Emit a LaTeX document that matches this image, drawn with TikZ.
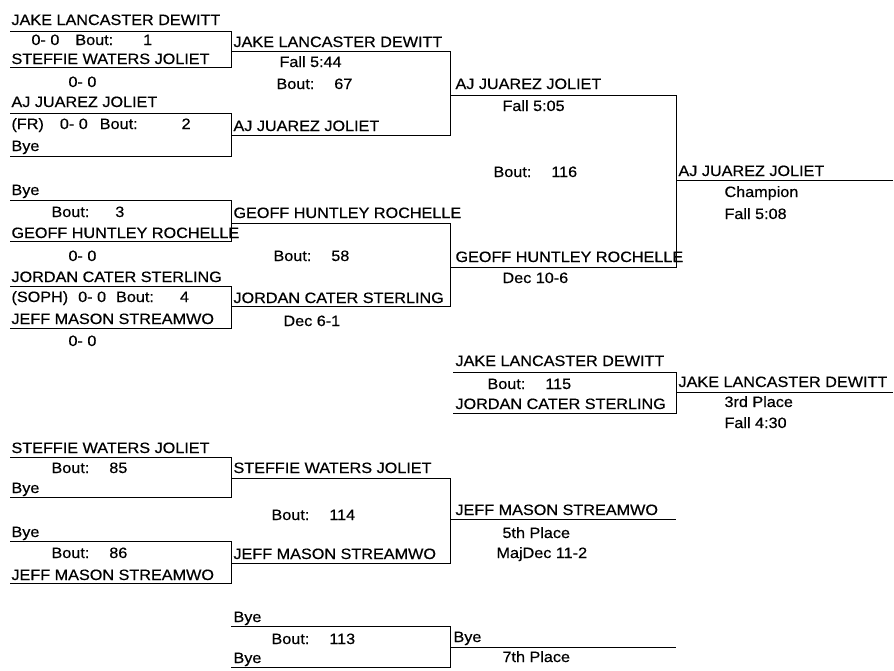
\documentclass[tikz,border=0pt]{standalone}
\usepackage{fontspec}
\setmainfont{Liberation Sans}[FakeStretch=1.08,FakeBold=0.5]
\usetikzlibrary{calc}

\begin{document}
\begin{tikzpicture}[x=1pt, y=-1pt, line width=1pt,
    wr/.style={anchor=base west, inner sep=0pt, font=\fontsize{15}{18}\selectfont}]
    \useasboundingbox (0,0) rectangle (894,670);
    % column edges
    \coordinate (x1) at (231,0);
    \coordinate (x2) at (450,0);
    \coordinate (x3) at (676,0);
    \coordinate (x4) at (893,0);
    % championship, first round
    \node[wr] (p1) at (11,25) {JAKE LANCASTER DEWITT};
    \node[wr] (r1) at (31,45) {0- 0\hspace{16pt}Bout:\hspace{30pt}1};
    \node[wr] (p2) at (11,64) {STEFFIE WATERS JOLIET};
    \node[wr] (r2) at (68,87) {0- 0};
    \node[wr] (p3) at (11,107) {AJ JUAREZ JOLIET};
    \node[wr] (r3) at (11,129) {(FR)\hspace{16pt}0- 0\hspace{12pt}Bout:\hspace{44pt}2};
    \node[wr] (p4) at (11,151) {Bye};
    \node[wr] (p5) at (11,195) {Bye};
    \node[wr] (r5) at (51,217) {Bout:\hspace{26pt}3};
    \node[wr] (p6) at (11,238) {GEOFF HUNTLEY ROCHELLE};
    \node[wr] (r6) at (68,261) {0- 0};
    \node[wr] (p7) at (11,282) {JORDAN CATER STERLING};
    \node[wr] (r7) at (11,302) {(SOPH)\hspace{10pt}0- 0\hspace{10pt}Bout:\hspace{26pt}4};
    \node[wr] (p8) at (11,324) {JEFF MASON STREAMWO};
    \node[wr] (r8) at (68,346) {0- 0};
    \coordinate (a1) at (10,31);  \coordinate (a2) at (10,67);
    \coordinate (a3) at (10,113); \coordinate (a4) at (10,156);
    \coordinate (a5) at (10,200); \coordinate (a6) at (10,241);
    \coordinate (a7) at (10,286); \coordinate (a8) at (10,328);
    \draw (a1) -- (a1 -| x1) |- (a2);
    \draw (a3) -- (a3 -| x1) |- (a4);
    \draw (a5) -- (a5 -| x1) |- (a6);
    \draw (a7) -- (a7 -| x1) |- (a8);
    % quarter finals
    \node[wr] (q1) at (233,47) {JAKE LANCASTER DEWITT};
    \node[wr] (t1) at (279,67) {Fall 5:44};
    \node[wr] (t2) at (276,89) {Bout:\hspace{20pt}67};
    \node[wr] (q2) at (233,131) {AJ JUAREZ JOLIET};
    \node[wr] (q3) at (233,218) {GEOFF HUNTLEY ROCHELLE};
    \node[wr] (t3) at (273,261) {Bout:\hspace{20pt}58};
    \node[wr] (q4) at (233,303) {JORDAN CATER STERLING};
    \node[wr] (t4) at (283,326) {Dec 6-1};
    \coordinate (b1) at (231,51);  \coordinate (b2) at (231,135);
    \coordinate (b3) at (231,223); \coordinate (b4) at (231,306);
    \draw (b1) -- (b1 -| x2) |- (b2);
    \draw (b3) -- (b3 -| x2) |- (b4);
    % final
    \node[wr] (f1) at (455,89) {AJ JUAREZ JOLIET};
    \node[wr] (u1) at (502,111) {Fall 5:05};
    \node[wr] (u2) at (493,177) {Bout:\hspace{20pt}116};
    \node[wr] (f2) at (455,262) {GEOFF HUNTLEY ROCHELLE};
    \node[wr] (u3) at (502,283) {Dec 10-6};
    \coordinate (c1) at (450,95); \coordinate (c2) at (450,267);
    \draw (c1) -- (c1 -| x3) |- (c2);
    \node[wr] (champ) at (678,176) {AJ JUAREZ JOLIET};
    \node[wr] (v1) at (724,197) {Champion};
    \node[wr] (v2) at (724,219) {Fall 5:08};
    \coordinate (d1) at (676,180);
    \draw (d1) -- (d1 -| x4);
    % 3rd place
    \node[wr] (g1) at (455,366) {JAKE LANCASTER DEWITT};
    \node[wr] (w1) at (487,389) {Bout:\hspace{20pt}115};
    \node[wr] (g2) at (455,409) {JORDAN CATER STERLING};
    \coordinate (e1) at (453,372); \coordinate (e2) at (453,413);
    \draw (e1) -- (e1 -| x3) |- (e2);
    \node[wr] (third) at (678,387) {JAKE LANCASTER DEWITT};
    \node[wr] (w2) at (724,407) {3rd Place};
    \node[wr] (w3) at (724,428) {Fall 4:30};
    \coordinate (e3) at (676,392);
    \draw (e3) -- (e3 -| x4);
    % 5th place
    \node[wr] (h1) at (11,453) {STEFFIE WATERS JOLIET};
    \node[wr] (y1) at (51,473) {Bout:\hspace{20pt}85};
    \node[wr] (h2) at (11,493) {Bye};
    \node[wr] (h3) at (11,537) {Bye};
    \node[wr] (y2) at (51,558) {Bout:\hspace{20pt}86};
    \node[wr] (h4) at (11,580) {JEFF MASON STREAMWO};
    \coordinate (g1l) at (10,457); \coordinate (g2l) at (10,497);
    \coordinate (g3l) at (10,541); \coordinate (g4l) at (10,583);
    \draw (g1l) -- (g1l -| x1) |- (g2l);
    \draw (g3l) -- (g3l -| x1) |- (g4l);
    \node[wr] (k1) at (233,473) {STEFFIE WATERS JOLIET};
    \node[wr] (y3) at (271,520) {Bout:\hspace{20pt}114};
    \node[wr] (k2) at (233,559) {JEFF MASON STREAMWO};
    \coordinate (h1l) at (231,478); \coordinate (h2l) at (231,563);
    \draw (h1l) -- (h1l -| x2) |- (h2l);
    \node[wr] (fifth) at (455,515) {JEFF MASON STREAMWO};
    \node[wr] (y4) at (502,538) {5th Place};
    \node[wr] (y5) at (496,558) {MajDec 11-2};
    \coordinate (k1l) at (450,519);
    \draw (k1l) -- (k1l -| x3);
    % 7th place
    \node[wr] (m1) at (233,622) {Bye};
    \node[wr] (z1) at (271,644) {Bout:\hspace{20pt}113};
    \node[wr] (m2) at (233,663) {Bye};
    \coordinate (m1l) at (231,626); \coordinate (m2l) at (231,667);
    \draw (m1l) -- (m1l -| x2) |- (m2l);
    \node[wr] (seventh) at (453,642) {Bye};
    \node[wr] (z2) at (502,662) {7th Place};
    \coordinate (n1l) at (450,647);
    \draw (n1l) -- (n1l -| x3);
\end{tikzpicture}
\end{document}
